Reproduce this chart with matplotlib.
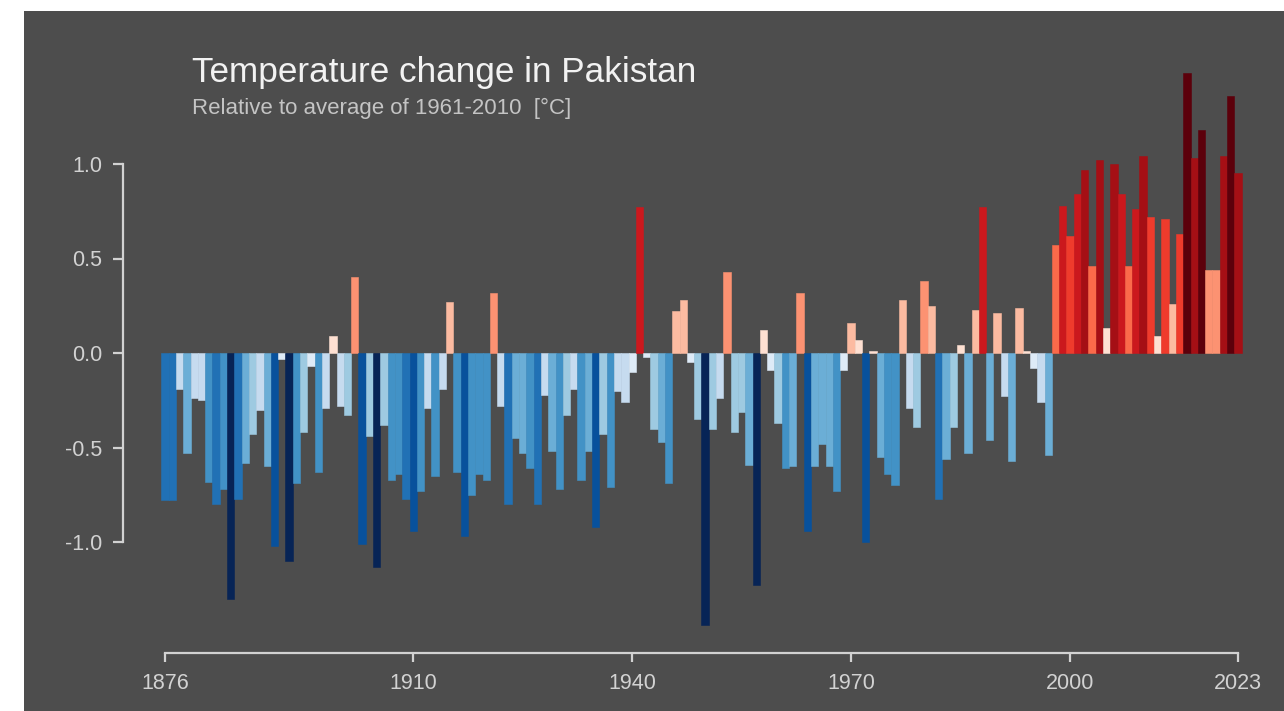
import numpy as np
import matplotlib.pyplot as plt
from matplotlib.colors import ListedColormap, BoundaryNorm
from matplotlib.patches import Rectangle

plt.rcParams['font.family'] = ['Liberation Sans', 'DejaVu Sans']

years = np.arange(1876, 2024)
anomaly = [
    -0.78, -0.78, -0.19, -0.53,                                      # 1876-1879
    -0.24, -0.25, -0.68, -0.80, -0.72, -1.30, -0.77, -0.58, -0.43, -0.30,  # 1880s
    -0.60, -1.02, -0.03, -1.10, -0.69, -0.42, -0.07, -0.63, -0.29, 0.09,   # 1890s
    -0.28, -0.33, 0.40, -1.01, -0.44, -1.13, -0.38, -0.67, -0.64, -0.77,   # 1900s
    -0.94, -0.73, -0.29, -0.65, -0.19, 0.27, -0.63, -0.97, -0.75, -0.64,   # 1910s
    -0.67, 0.32, -0.28, -0.80, -0.45, -0.53, -0.61, -0.80, -0.22, -0.52,   # 1920s
    -0.72, -0.33, -0.19, -0.67, -0.52, -0.92, -0.43, -0.71, -0.20, -0.26,  # 1930s
    -0.10, 0.77, -0.02, -0.40, -0.47, -0.69, 0.22, 0.28, -0.05, -0.35,     # 1940s
    -1.44, -0.40, -0.24, 0.43, -0.42, -0.31, -0.59, -1.23, 0.12, -0.09,    # 1950s
    -0.37, -0.61, -0.60, 0.32, -0.94, -0.60, -0.48, -0.60, -0.73, -0.09,   # 1960s
    0.16, 0.07, -1.00, 0.01, -0.55, -0.64, -0.70, 0.28, -0.29, -0.39,      # 1970s
    0.38, 0.25, -0.77, -0.56, -0.39, 0.04, -0.53, 0.23, 0.77, -0.46,       # 1980s
    0.21, -0.23, -0.57, 0.24, 0.01, -0.08, -0.26, -0.54, 0.57, 0.78,       # 1990s
    0.62, 0.84, 0.97, 0.46, 1.02, 0.13, 1.00, 0.84, 0.46, 0.76,            # 2000s
    1.04, 0.72, 0.09, 0.71, 0.26, 0.63, 1.48, 1.03, 1.18, 0.44,            # 2010s
    0.44, 1.04, 1.36, 0.95,                                                # 2020-2023
]
tick_years = [1876, 1910, 1940, 1970, 2000, 2023]
y_ticks = [-1.0, -0.5, 0.0, 0.5, 1.0]
y_labels = ['-1.0', '-0.5', '0.0', '0.5', '1.0']

# warming stripes palette (8 blues + 8 reds)
stripe_colors = ['#072456', '#08519c', '#2171b5', '#4292c6', '#6baed6', '#9ecae1', '#c6dbef', '#deebf7',
                 '#fee0d2', '#fcbba1', '#fc9272', '#fb6a4a', '#ef3b2c', '#cb181d', '#a50f15', '#5c000b']
cmap = ListedColormap(stripe_colors)
norm = BoundaryNorm(np.linspace(-1.2, 1.2, 17), cmap.N, clip=True)
bar_colors = cmap(norm(anomaly))

bg = '#4d4d4d'
fg = '#d2d2d2'

W, H = 1284, 711
fig = plt.figure(figsize=(W / 100, H / 100), dpi=100, facecolor='white')
fig.add_artist(Rectangle((24 / W, 0), 1 - 24 / W, 1 - 11 / H, transform=fig.transFigure,
                         facecolor=bg, edgecolor='none', zorder=0))

ax = fig.add_axes([123 / W, 1 - 653 / H, (1262 - 123) / W, (653 - 60) / H])
ax.patch.set_visible(False)
ax.bar(years, anomaly, width=1.0, color=bar_colors, edgecolor=bar_colors, linewidth=0.4)

ax.set_xlim(1876 - 42 / 7.3, 2023 + 24 / 7.3)
ax.set_ylim(-300 / 189, 293 / 189)

for s in ['top', 'right']:
    ax.spines[s].set_visible(False)
ax.spines['left'].set_bounds(-1.0, 1.0)
ax.spines['bottom'].set_bounds(1876, 2023)
for s in ['left', 'bottom']:
    ax.spines[s].set_color(fg)
    ax.spines[s].set_linewidth(1.6)

ax.set_xticks(tick_years)
ax.set_yticks(y_ticks, labels=y_labels)
ax.tick_params(axis='both', colors=fg, labelcolor=fg, labelsize=15.5, width=1.6)
ax.tick_params(axis='x', length=6.5, pad=8)
ax.tick_params(axis='y', length=7, pad=8)

fig.text(192 / W, 1 - 82 / H, 'Temperature change in Pakistan', fontsize=25.3,
         color='#f2f2f2', ha='left', va='baseline')
fig.text(192 / W, 1 - 114 / H, 'Relative to average of 1961-2010  [°C]', fontsize=16,
         color='#c4c4c4', ha='left', va='baseline')

fig.savefig('out.png', dpi=100, facecolor=fig.get_facecolor())
